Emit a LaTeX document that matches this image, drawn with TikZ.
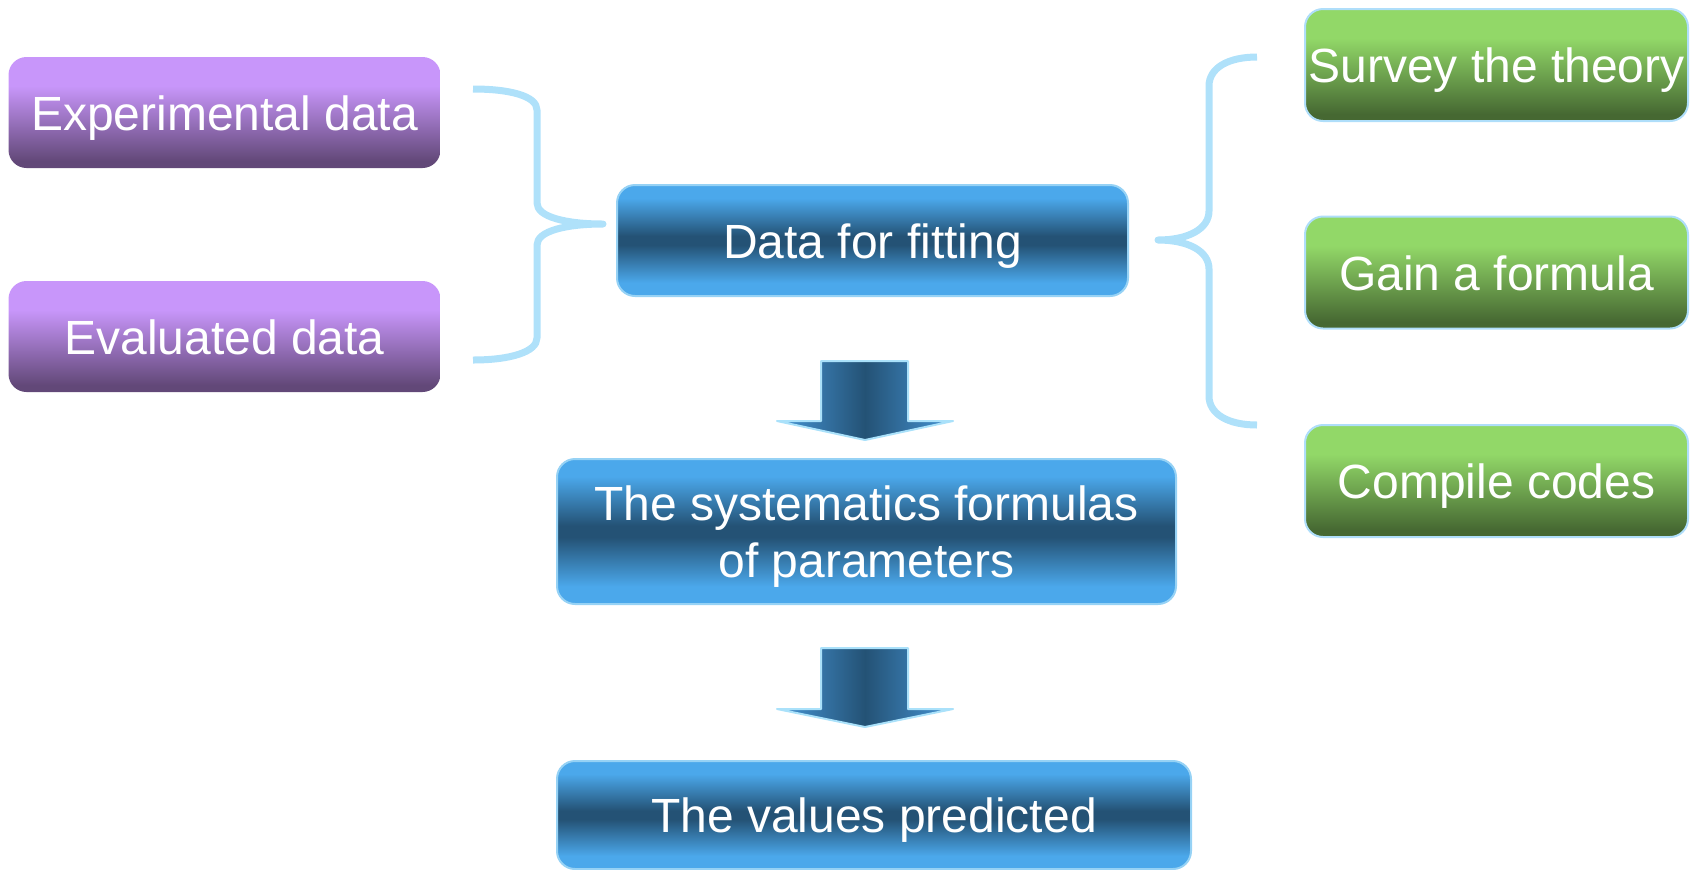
\documentclass[tikz,border=0pt]{standalone}
\usepackage{fontspec}
\setmainfont{Liberation Sans}
\usetikzlibrary{calc}

\definecolor{blueL}{RGB}{75,168,235}
\definecolor{blueD}{RGB}{36,82,117}
\definecolor{blueEdge}{RGB}{150,210,245}
\definecolor{purpleL}{RGB}{200,150,250}
\definecolor{purpleD}{RGB}{98,72,120}
\definecolor{greenL}{RGB}{146,216,104}
\definecolor{greenD}{RGB}{70,104,50}
\definecolor{greenEdge}{RGB}{175,222,250}
\definecolor{braceC}{RGB}{175,225,250}
\definecolor{arrowL}{RGB}{70,150,215}
\definecolor{arrowEdge}{RGB}{170,225,250}

\pgfdeclareverticalshading{purplebar}{100bp}{color(0bp)=(purpleD); color(28bp)=(purpleD); color(62bp)=(purpleL); color(100bp)=(purpleL)}
\pgfdeclareverticalshading{greenbar}{100bp}{color(0bp)=(greenD); color(28bp)=(greenD); color(62bp)=(greenL); color(100bp)=(greenL)}
\pgfdeclareverticalshading{bluebar}{100bp}{color(0bp)=(blueL); color(31bp)=(blueL); color(48bp)=(blueD); color(52bp)=(blueD); color(69bp)=(blueL); color(100bp)=(blueL)}
\pgfdeclarehorizontalshading{arrowbar}{100bp}{color(0bp)=(arrowL); color(25bp)=(arrowL); color(50bp)=(blueD); color(75bp)=(arrowL); color(100bp)=(arrowL)}

\begin{document}
\begin{tikzpicture}[x=0.5pt,y=-0.5pt,
  box/.style={rounded corners=9pt,inner sep=0pt,text=white,align=center,
    font=\fontsize{24}{28.5}\selectfont,text height=22.8pt,text depth=5pt},
  purplebox/.style={box,shade,shading=purplebar,minimum width=216pt,minimum height=55.5pt},
  bluebox/.style={box,shade,shading=bluebar,draw=blueEdge,line width=1pt},
  greenbox/.style={box,shade,shading=greenbar,draw=greenEdge,line width=1pt,
    minimum width=191.5pt,minimum height=56pt},
  brace/.style={draw=braceC,line width=3.5pt,line join=round},
  blockarrow/.style={shade,shading=arrowbar,draw=arrowEdge,line width=1pt,line join=round}]
\useasboundingbox (0,0) rectangle (1693,869);

% input data
\node[purplebox] (exp) at (224.5,112.5) {Experimental data};
\node[purplebox] (eva) at (224.5,336.5) {Evaluated data};

% main chain
\node[bluebox,minimum width=255.5pt,minimum height=55.5pt] (fit) at (872.5,240.5) {Data for fitting};
\node[bluebox,minimum width=309.5pt,minimum height=72.5pt,text height=,text depth=] (sys) at (866.5,531.5)
  {\rule{0pt}{0.95em}The systematics formulas\\of parameters};
\node[bluebox,minimum width=317pt,minimum height=54pt] (val) at (874,815) {The values predicted};

% steps
\node[greenbox] (sur) at (1496.5,65) {Survey the theory};
\node[greenbox] (gai) at (1496.5,272.5) {Gain a formula};
\node[greenbox] (com) at (1496.5,481) {Compile codes};

% braces
\coordinate (ltip) at (603,224);
\coordinate (rtip) at (1158,240);
\draw[brace] (473,89) .. controls (510,89) and (537,96) .. (537,110) -- (537,203)
  .. controls (537,217) and (566,224) .. (ltip) .. controls (566,224) and (537,231) .. (537,245)
  -- (537,338) .. controls (537,352) and (510,360) .. (473,360);
\draw[brace] (1257,57) .. controls (1228,57) and (1209,68) .. (1209,86) -- (1209,211)
  .. controls (1209,229) and (1188,240) .. (rtip) .. controls (1188,240) and (1209,251) .. (1209,269)
  -- (1209,396) .. controls (1209,414) and (1228,425) .. (1257,425);

% block arrows
\path[blockarrow] (821,361) -- (908,361) -- (908,421) -- (953,421) -- (865,440) -- (777,421) -- (821,421) -- cycle;
\path[blockarrow] (821,648) -- (908,648) -- (908,709) -- (953,709) -- (865,727) -- (777,709) -- (821,709) -- cycle;
\end{tikzpicture}
\end{document}
